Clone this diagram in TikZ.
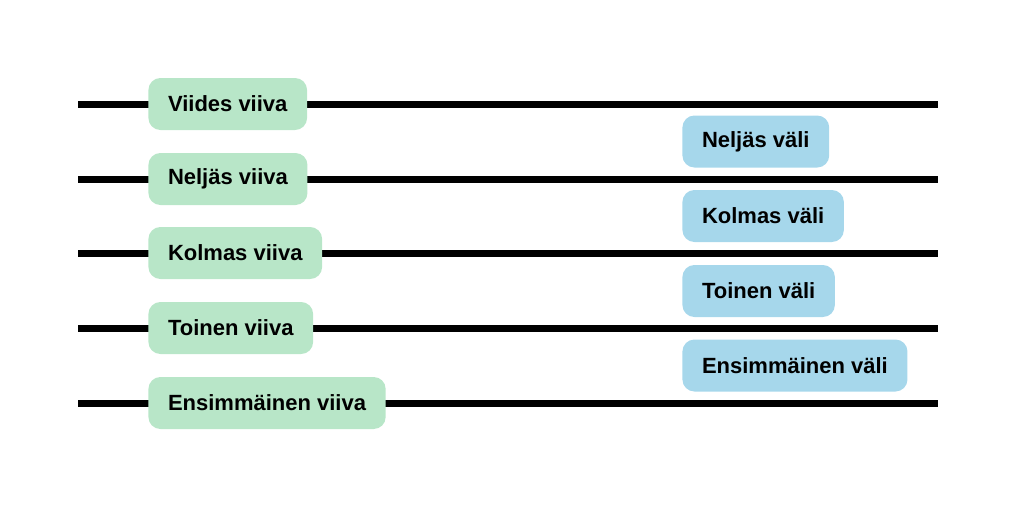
\documentclass[tikz,border=0pt]{standalone}
\usepackage{fontspec}
\setmainfont{Liberation Sans}
\usetikzlibrary{positioning}
\tikzset{staffline/.style={line width=3.5pt},
         linebox/.style={fill=linegreen,rounded corners=6pt,minimum height=26pt,inner xsep=9.8pt,anchor=west,font=\fontsize{11}{13}\selectfont\bfseries},
         spacebox/.style={linebox,fill=spaceblue},
         }
\definecolor{linegreen}{RGB}{184,230,200}
\definecolor{spaceblue}{RGB}{166,215,235}

\begin{document}
\begin{tikzpicture}[x=0.5pt,y=-0.5pt]
		\useasboundingbox (0,0) rectangle (1016,510);
		% the five lines
		\foreach \n/\y in {5/104,4/179,3/253,2/328,1/403}{
			\coordinate (w\n) at (78,\y);
			\coordinate (e\n) at (938,\y);
			\draw[staffline] (w\n) -- (e\n);
		}
		% line names
		\node[linebox] (viiva5) at (148,104) {Viides viiva};
		\node[linebox] (viiva4) at (148,179) {Neljäs viiva};
		\node[linebox] (viiva3) at (148,253) {Kolmas viiva};
		\node[linebox] (viiva2) at (148,328) {Toinen viiva};
		\node[linebox] (viiva1) at (148,403) {Ensimmäinen viiva};
		% space names
		\node[spacebox] (vali4) at (682,141.5) {Neljäs väli};
		\node[spacebox] (vali3) at (682,216) {Kolmas väli};
		\node[spacebox] (vali2) at (682,291) {Toinen väli};
		\node[spacebox] (vali1) at (682,365.5) {Ensimmäinen väli};
\end{tikzpicture}
\end{document}
